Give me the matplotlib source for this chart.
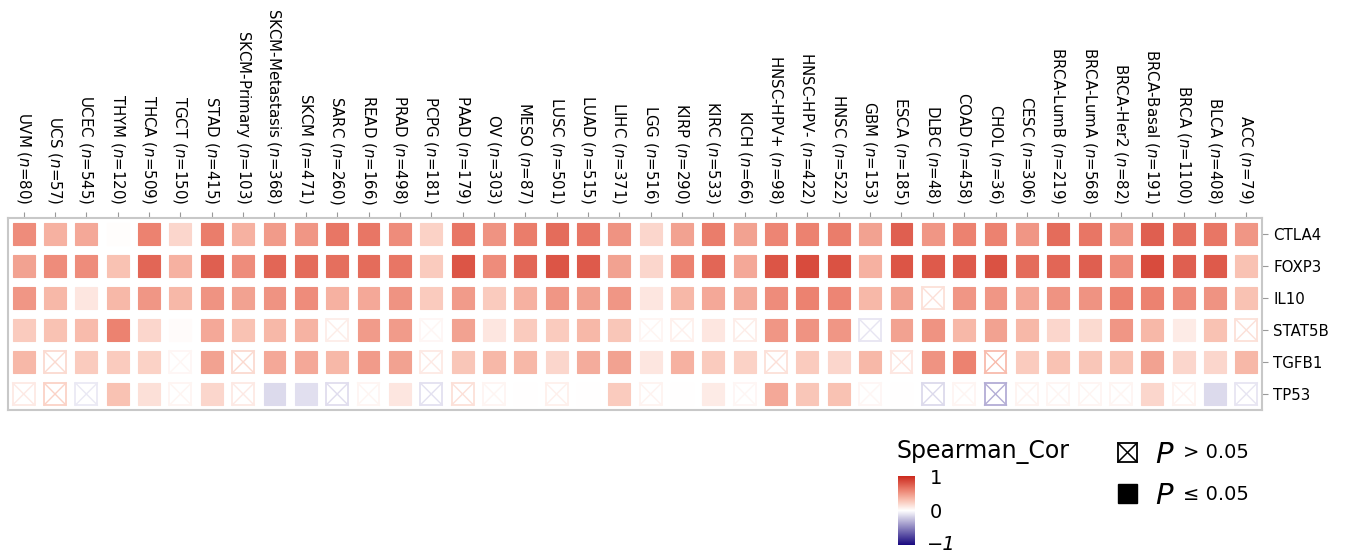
import numpy as np
import matplotlib
matplotlib.use("Agg")
import matplotlib.pyplot as plt
from matplotlib.colors import LinearSegmentedColormap, Normalize
from matplotlib.patches import Rectangle

cancers = ["UVM", "UCS", "UCEC", "THYM", "THCA", "TGCT", "STAD", "SKCM-Primary",
           "SKCM-Metastasis", "SKCM", "SARC", "READ", "PRAD", "PCPG", "PAAD", "OV",
           "MESO", "LUSC", "LUAD", "LIHC", "LGG", "KIRP", "KIRC", "KICH", "HNSC-HPV+",
           "HNSC-HPV-", "HNSC", "GBM", "ESCA", "DLBC", "COAD", "CHOL", "CESC",
           "BRCA-LumB", "BRCA-LumA", "BRCA-Her2", "BRCA-Basal", "BRCA", "BLCA", "ACC"]
n_samples = [80, 57, 545, 120, 509, 150, 415, 103, 368, 471, 260, 166, 498, 181, 179, 303,
             87, 501, 515, 371, 516, 290, 533, 66, 98, 422, 522, 153, 185, 48, 458, 36, 306,
             219, 568, 82, 191, 1100, 408, 79]
genes = ["CTLA4", "FOXP3", "IL10", "STAT5B", "TGFB1", "TP53"]

cor_CTLA4 = [0.55, 0.38, 0.42, 0.01, 0.60, 0.20, 0.62, 0.38, 0.48, 0.50, 0.65, 0.65, 0.55, 0.22,
             0.65, 0.52, 0.62, 0.70, 0.65, 0.52, 0.20, 0.45, 0.62, 0.45, 0.58, 0.60, 0.62, 0.45,
             0.75, 0.50, 0.60, 0.60, 0.50, 0.70, 0.65, 0.50, 0.75, 0.68, 0.65, 0.50]
cor_FOXP3 = [0.45, 0.55, 0.55, 0.30, 0.72, 0.38, 0.75, 0.55, 0.72, 0.70, 0.68, 0.70, 0.65, 0.25,
             0.80, 0.55, 0.72, 0.80, 0.78, 0.45, 0.20, 0.60, 0.72, 0.42, 0.80, 0.85, 0.82, 0.38,
             0.80, 0.78, 0.78, 0.82, 0.70, 0.72, 0.75, 0.55, 0.85, 0.75, 0.78, 0.30]
cor_IL10 = [0.50, 0.35, 0.12, 0.35, 0.50, 0.35, 0.52, 0.45, 0.52, 0.55, 0.38, 0.42, 0.52, 0.25,
            0.48, 0.25, 0.38, 0.50, 0.45, 0.50, 0.12, 0.35, 0.42, 0.40, 0.55, 0.60, 0.58, 0.35,
            0.45, 0.10, 0.50, 0.50, 0.42, 0.52, 0.52, 0.60, 0.60, 0.55, 0.52, 0.30]
cor_STAT5B = [0.25, 0.30, 0.33, 0.60, 0.20, 0.02, 0.42, 0.30, 0.35, 0.37, 0.06, 0.48, 0.48, 0.03,
              0.45, 0.12, 0.25, 0.25, 0.35, 0.28, 0.02, 0.05, 0.12, 0.06, 0.50, 0.52, 0.50, -0.07,
              0.45, 0.52, 0.35, 0.45, 0.35, 0.20, 0.18, 0.50, 0.35, 0.10, 0.30, 0.10]
cor_TGFB1 = [0.35, 0.12, 0.25, 0.25, 0.22, 0.03, 0.45, 0.12, 0.42, 0.42, 0.35, 0.48, 0.45, 0.07,
             0.28, 0.35, 0.35, 0.20, 0.40, 0.45, 0.12, 0.38, 0.25, 0.22, 0.10, 0.25, 0.20, 0.35,
             0.08, 0.52, 0.60, 0.22, 0.25, 0.30, 0.28, 0.30, 0.45, 0.20, 0.20, 0.35]
cor_TP53 = [0.07, 0.15, -0.06, 0.30, 0.15, 0.02, 0.20, 0.07, -0.15, -0.13, -0.09, 0.02, 0.12, -0.08,
            0.10, 0.02, 0.00, 0.05, 0.00, 0.25, 0.04, 0.00, 0.10, 0.03, 0.42, 0.28, 0.30, 0.03,
            0.00, -0.10, 0.02, -0.22, 0.04, 0.02, 0.02, 0.02, 0.20, 0.04, -0.15, -0.07]

ns_CTLA4 = []
ns_FOXP3 = []
ns_IL10 = ["DLBC"]
ns_STAT5B = ["SARC", "PCPG", "LGG", "KIRP", "KICH", "GBM", "ACC"]
ns_TGFB1 = ["UCS", "TGCT", "SKCM-Primary", "PCPG", "HNSC-HPV+", "ESCA", "CHOL"]
ns_TP53 = ["UVM", "UCS", "UCEC", "TGCT", "SKCM-Primary", "SARC", "READ", "PCPG", "PAAD", "OV",
           "LUSC", "LGG", "KICH", "GBM", "DLBC", "COAD", "CHOL", "CESC", "BRCA-LumB",
           "BRCA-LumA", "BRCA-Her2", "BRCA", "ACC"]

cors = [cor_CTLA4, cor_FOXP3, cor_IL10, cor_STAT5B, cor_TGFB1, cor_TP53]
nss = [ns_CTLA4, ns_FOXP3, ns_IL10, ns_STAT5B, ns_TGFB1, ns_TP53]

cmap = LinearSegmentedColormap.from_list(
    "sc", [(0.0, "#1a0a80"), (0.5, "#ffffff"), (0.65, "#f9c2b3"),
           (0.8, "#ec8270"), (1.0, "#cc2a1e")])
norm = Normalize(-1, 1)

W, H = 1354, 556
fig = plt.figure(figsize=(W / 100, H / 100), dpi=100)
ax = fig.add_axes([8 / W, 1 - 410 / H, (1262 - 8) / W, (410 - 218) / H])

sq_w = 0.70
sq_h = 0.69
for r, (vals, ns) in enumerate(zip(cors, nss)):
    for c, v in enumerate(vals):
        col = cmap(norm(v))
        x0, y0 = c - sq_w / 2, r - sq_h / 2
        if cancers[c] in ns:
            ec = cmap(norm(v * 1.5 if abs(v) > 0.02 else np.sign(v + 1e-9) * 0.05))
            ax.add_patch(Rectangle((x0, y0), sq_w, sq_h, facecolor="white", edgecolor=ec, lw=1.3))
            ax.plot([x0, x0 + sq_w], [y0, y0 + sq_h], color=ec, lw=1.0)
            ax.plot([x0, x0 + sq_w], [y0 + sq_h, y0], color=ec, lw=1.0)
        else:
            ax.add_patch(Rectangle((x0, y0), sq_w, sq_h, facecolor=col, edgecolor=col, lw=0.8))

ax.set_xlim(-0.5, len(cancers) - 0.5)
ax.set_ylim(len(genes) - 0.5, -0.5)

labels = [f"{c} ($\\it{{n}}$={n})" for c, n in zip(cancers, n_samples)]
ax.xaxis.tick_top()
ax.set_xticks(range(len(cancers)))
ax.set_xticklabels(labels, rotation=270, fontsize=10.8, ha="center", va="bottom")
ax.yaxis.tick_right()
ax.set_yticks(range(len(genes)))
ax.set_yticklabels(genes, fontsize=10.8)
ax.tick_params(axis="both", color="#999999", length=4, width=0.8)
ax.tick_params(axis="x", pad=6)
ax.tick_params(axis="y", pad=4)
for s in ax.spines.values():
    s.set_color("#c8c8c8")
    s.set_linewidth(1.5)

# colorbar legend
fig.text(897 / W, 1 - 452 / H, "Spearman_Cor", fontsize=17, va="center", ha="left")
cax = fig.add_axes([898 / W, 1 - 545 / H, 17 / W, (545 - 476) / H])
grad = np.linspace(1, -1, 200).reshape(-1, 1)
cax.imshow(grad, cmap=cmap, norm=norm, aspect="auto", extent=[0, 1, -1, 1])
cax.set_axis_off()
fig.text(930 / W, 1 - 478 / H, "1", fontsize=14, va="center")
fig.text(930 / W, 1 - 512 / H, "0", fontsize=14, va="center")
fig.text(927 / W, 1 - 545 / H, "\u22121", fontsize=14, va="center", style="italic")

# significance legend
lax = fig.add_axes([0, 0, 1, 1], facecolor="none")
lax.set_xlim(0, W)
lax.set_ylim(H, 0)
lax.set_axis_off()
bx, by, bs = 1118, 443, 19
lax.add_patch(Rectangle((bx, by), bs, bs, facecolor="white", edgecolor="black", lw=1.3))
lax.plot([bx, bx + bs], [by, by + bs], color="black", lw=1.1)
lax.plot([bx, bx + bs], [by + bs, by], color="black", lw=1.1)
lax.add_patch(Rectangle((bx, 484), bs, bs, facecolor="black", edgecolor="black"))
lax.text(1155, 455, "P", fontsize=21, style="italic", va="center")
lax.text(1183, 453, "> 0.05", fontsize=14, va="center")
lax.text(1155, 496, "P", fontsize=21, style="italic", va="center")
lax.text(1183, 494, "\u2264 0.05", fontsize=14, va="center")

fig.savefig("out.png", dpi=100)
